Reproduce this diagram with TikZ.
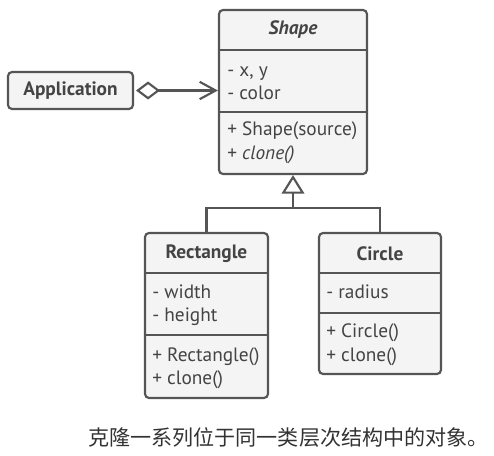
\documentclass[tikz,border=0pt]{standalone}
\usepackage{fontspec}
\setmainfont{PT Sans}
\newfontfamily\cjk{Noto Sans CJK SC}
\usetikzlibrary{arrows.meta,fit,calc}
\definecolor{ln}{HTML}{555555}
\definecolor{fl}{HTML}{F4F4F4}
\definecolor{tx}{HTML}{444444}
\definecolor{cx}{HTML}{333333}
\tikzset{
 cls/.style={draw=ln, fill=fl, line width=1.6pt, rounded corners=3pt, inner sep=0pt},
 ttl/.style={font=\bfseries\fontsize{14.5}{17}\selectfont, text=tx, inner sep=0pt},
 mem/.style={font=\fontsize{14.5}{17}\selectfont, text=tx, anchor=west, inner sep=0pt, text height=10pt, text depth=3.5pt},
 sep/.style={draw=ln, line width=1.6pt},
 conn/.style={draw=ln, line width=1.6pt}
}
\begin{document}
\begin{tikzpicture}[x=0.75pt,y=-0.75pt]
\useasboundingbox (0,0) rectangle (494,456);
% Shape
\node[cls, fit={(219,10)(367,174)}] (shape) {};
\draw[sep] (219,50) -- (367,50);
\draw[sep] (219,112) -- (367,112);
\node[ttl] (shapeT) at (293,30) {\itshape Shape};
\node[mem] (shapeA1) at (227,72) {- x, y};
\node[mem] (shapeA2) at (227,95) {- color};
\node[mem] (shapeM1) at (227,131) {+ Shape(source)};
\node[mem] (shapeM2) at (227,155) {+ \itshape clone()};
% Application
\node[cls, fit={(8,72)(133,109)}] (app) {};
\node[ttl] (appT) at (70.5,91) {Application};
% Rectangle
\node[cls, fit={(145,233)(268,398)}] (rect) {};
\draw[sep] (145,273) -- (268,273);
\draw[sep] (145,335) -- (268,335);
\node[ttl] (rectT) at (206.5,254) {Rectangle};
\node[mem] (rectA1) at (152,294) {- width};
\node[mem] (rectA2) at (152,317) {- height};
\node[mem] (rectM1) at (152,357) {+ Rectangle()};
\node[mem] (rectM2) at (152,380) {+ clone()};
% Circle
\node[cls, fit={(319,233)(441,374)}] (circ) {};
\draw[sep] (319,273) -- (441,273);
\draw[sep] (319,313) -- (441,313);
\node[ttl] (circT) at (380,254) {Circle};
\node[mem] (circA1) at (326,294) {- radius};
\node[mem] (circM1) at (326,333) {+ Circle()};
\node[mem] (circM2) at (326,357) {+ clone()};
% connectors
\draw[conn, shorten <=1.5pt, {Diamond[open,length=18pt,width=13.5pt]}-{Straight Barb[length=12pt,width=13pt]}] (app.east) -- (app.east -| shape.west);
\coordinate (jn) at (293,208);
\draw[conn] (rect.north) |- (jn) -| (circ.north);
\draw[conn, -{Triangle[open,length=14pt,width=17pt]}] (jn) -- (shape.south);
% caption
\node[font=\cjk\fontsize{15.8}{18}\selectfont, text=cx, inner sep=0pt] (cap) at (288.5,438) {克隆一系列位于同一类层次结构中的对象。};
\end{tikzpicture}
\end{document}
